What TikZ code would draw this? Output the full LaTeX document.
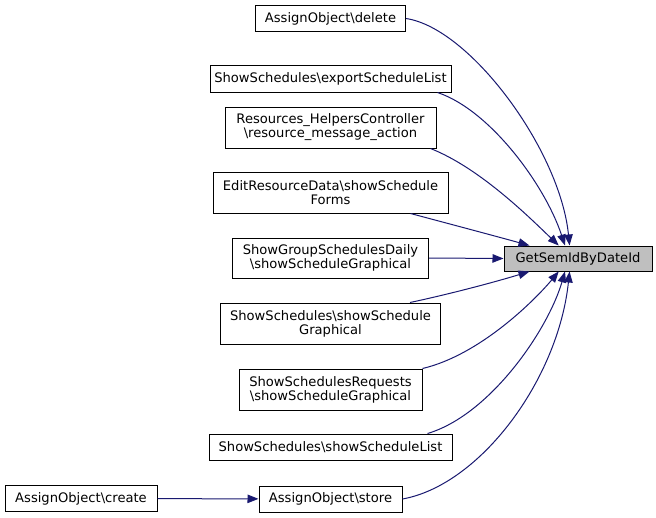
\documentclass[tikz,border=0pt]{standalone}
\usepackage{fontspec}
\setmainfont{DejaVu Sans}
\usetikzlibrary{arrows.meta}
\definecolor{edgeblue}{RGB}{25,25,112}
\definecolor{tgtgray}{RGB}{191,191,191}
\tikzset{
  fn/.style={draw=black,line width=1pt,fill=white,align=center,inner sep=0pt,
    font=\fontsize{13.1}{14}\selectfont},
  call/.style={draw=edgeblue,line width=1pt,-{Triangle[length=11pt,width=8.5pt]}}
}
\begin{document}
\begin{tikzpicture}[x=1pt,y=-1pt]
                \useasboundingbox (0,0) rectangle (656,517);
                \node[fn,minimum width=150pt,minimum height=26pt] (del) at (330.5,18.5) {AssignObject\textbackslash delete};
                \node[fn,minimum width=241pt,minimum height=27pt] (exp) at (330.5,78.5) {ShowSchedules\textbackslash exportScheduleList};
                \node[fn,minimum width=211pt,minimum height=41pt] (res) at (330.5,127.5) {Resources\_HelpersController\\\textbackslash resource\_message\_action};
                \node[fn,minimum width=235pt,minimum height=41pt] (edit) at (330.5,192.5) {EditResourceData\textbackslash showSchedule\\Forms};
                \node[fn,minimum width=196pt,minimum height=40pt] (grp) at (330.5,258) {ShowGroupSchedulesDaily\\\textbackslash showScheduleGraphical};
                \node[fn,minimum width=220pt,minimum height=41pt] (sgr) at (330.5,323.5) {ShowSchedules\textbackslash showSchedule\\Graphical};
                \node[fn,minimum width=183pt,minimum height=41pt] (req) at (330.5,389.5) {ShowSchedulesRequests\\\textbackslash showScheduleGraphical};
                \node[fn,minimum width=243pt,minimum height=26pt] (sli) at (330.5,447) {ShowSchedules\textbackslash showScheduleList};
                \node[fn,minimum width=143pt,minimum height=26pt] (store) at (330.5,499) {AssignObject\textbackslash store};
                \node[fn,minimum width=152pt,minimum height=26pt] (create) at (81,498.5) {AssignObject\textbackslash create};
                \node[fn,fill=tgtgray,minimum width=148pt,minimum height=25pt] (tgt) at (578,258.5) {GetSemIdByDateId};
                % callers above
                \draw[call] (del.east) .. controls (470,28) and (560,150) .. (tgt.123);
                \draw[call] (exp.south east) ++(-14,0) .. controls (490,110) and (545,185) .. (tgt.135);
                \draw[call] (res.south east) ++(-6,0) .. controls (480,168) and (530,218) .. (tgt.146);
                \draw[call] (edit.south east) ++(-38,0) .. controls (450,224) and (495,236) .. (tgt.165);
                \draw[call] (grp.east) -- (tgt.west);
                % callers below
                \draw[call] (sgr.north east) ++(-31,0) .. controls (450,294) and (495,282) .. (tgt.195);
                \draw[call] (req.north east) .. controls (480,355) and (535,300) .. (tgt.214);
                \draw[call] (sli.north east) ++(-25,0) .. controls (490,415) and (548,330) .. (tgt.225);
                \draw[call] (store.east) .. controls (480,485) and (558,380) .. (tgt.237);
                \draw[call] (create) -- (store);
            \end{tikzpicture}
\end{document}
